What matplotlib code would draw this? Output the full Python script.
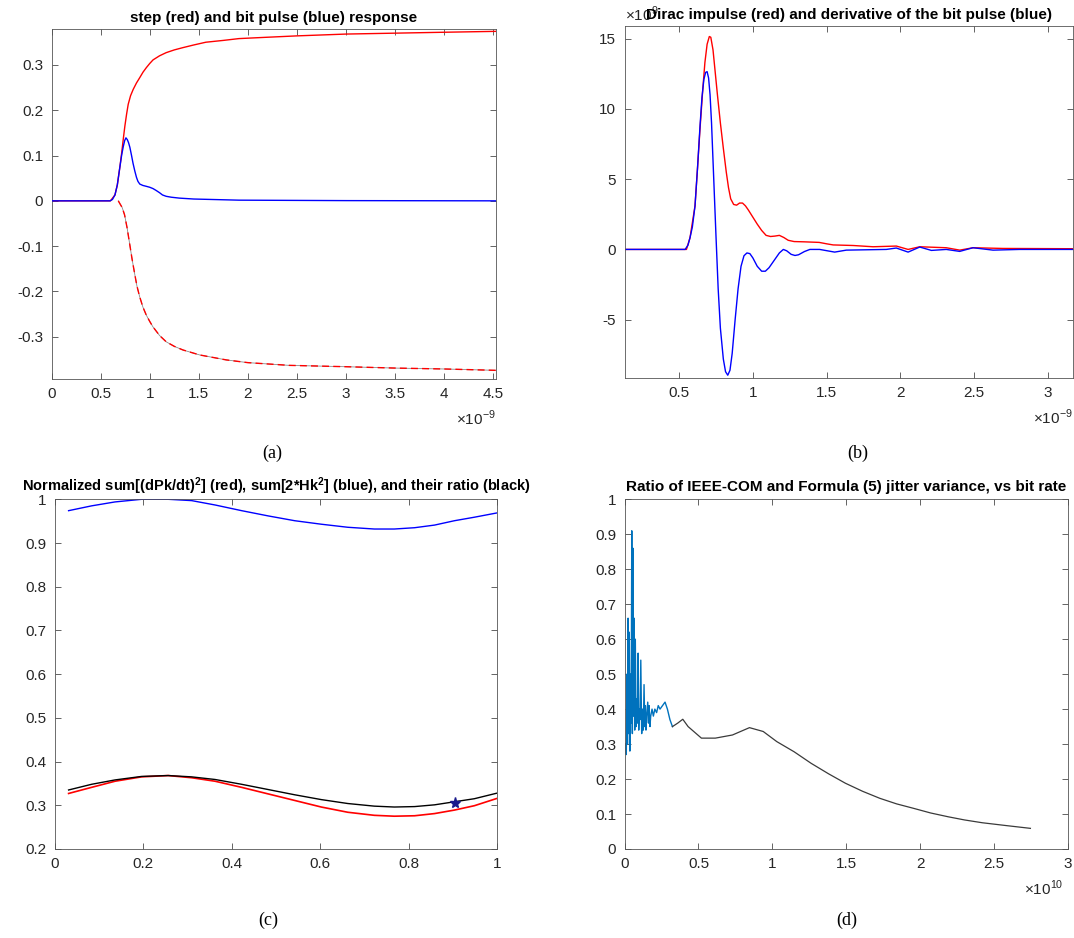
import numpy as np
import matplotlib.pyplot as plt
from matplotlib.ticker import FuncFormatter

plt.rcParams['font.family'] = ['Liberation Sans', 'DejaVu Sans']
plt.rcParams['mathtext.fontset'] = 'custom'
plt.rcParams['mathtext.rm'] = 'Liberation Sans'
plt.rcParams['mathtext.bf'] = 'Liberation Sans:bold'

# ---- (a) step and bit pulse response, time in 1e-9 s
a_pulse_t = [0, 0.596, 0.62, 0.646, 0.67, 0.697, 0.715, 0.731, 0.745, 0.758, 0.772,
             0.785, 0.798, 0.815, 0.83, 0.848, 0.865, 0.88, 0.899, 0.93, 0.966, 1.0,
             1.034, 1.065, 1.10, 1.13, 1.168, 1.22, 1.303, 1.45, 1.909, 3.0, 4.53]
a_pulse = [0, 0, 0.003, 0.013, 0.035, 0.076, 0.102, 0.12, 0.133, 0.139, 0.135,
           0.128, 0.118, 0.10, 0.083, 0.066, 0.052, 0.043, 0.037, 0.034, 0.032, 0.030,
           0.027, 0.023, 0.018, 0.013, 0.010, 0.008, 0.006, 0.004, 0.0015, 0.0005, 0]
a_step_t = [0, 0.60, 0.646, 0.67, 0.697, 0.714, 0.73, 0.747, 0.765, 0.781, 0.805,
            0.832, 0.865, 0.899, 0.932, 0.966, 1.0, 1.034, 1.10, 1.168, 1.25, 1.337,
            1.45, 1.572, 1.75, 1.909, 2.2, 2.5, 3.0, 3.5, 4.0, 4.53]
a_step = [0, 0, 0.013, 0.035, 0.076, 0.105, 0.135, 0.165, 0.192, 0.213, 0.232,
          0.246, 0.26, 0.272, 0.284, 0.294, 0.303, 0.311, 0.32, 0.327, 0.333, 0.338,
          0.344, 0.35, 0.354, 0.358, 0.361, 0.364, 0.368, 0.370, 0.372, 0.374]
a_neg_t = [0.68, 0.693, 0.72, 0.744, 0.77, 0.795, 0.82, 0.846, 0.87, 0.897, 0.93,
           0.965, 1.0, 1.033, 1.10, 1.168, 1.25, 1.338, 1.508, 1.78, 2.0, 2.42,
           3.0, 3.5, 4.0, 4.53]
a_neg = [0, -0.005, -0.015, -0.031, -0.06, -0.094, -0.128, -0.16, -0.188, -0.211, -0.234,
         -0.252, -0.266, -0.278, -0.297, -0.311, -0.321, -0.329, -0.34, -0.351, -0.357, -0.363,
         -0.366, -0.369, -0.371, -0.374]

# ---- (b) Dirac impulse and derivative of bit pulse, time 1e-9 s, values 1e9
b_red_t = [0.13, 0.55, 0.574, 0.608, 0.625, 0.642, 0.66, 0.675, 0.69, 0.705, 0.715,
           0.73, 0.745, 0.76, 0.78, 0.80, 0.82, 0.835, 0.85, 0.87, 0.89, 0.91, 0.93,
           0.95, 0.97, 1.0, 1.03, 1.06, 1.09, 1.12, 1.15, 1.18, 1.21, 1.24, 1.28,
           1.35, 1.45, 1.50, 1.545, 1.68, 1.815, 1.973, 2.053, 2.132, 2.312, 2.403,
           2.493, 2.697, 3.17]
b_red = [0, 0, 0.83, 3.1, 5.8, 8.6, 11.3, 13.3, 14.6, 15.15, 15.1,
         14.2, 12.6, 11.0, 9.0, 7.2, 5.5, 4.4, 3.6, 3.2, 3.15, 3.3, 3.3,
         3.1, 2.8, 2.3, 1.8, 1.35, 1.0, 0.92, 0.95, 1.0, 0.85, 0.65, 0.56,
         0.54, 0.5, 0.4, 0.32, 0.28, 0.19, 0.24, 0.0, 0.19, 0.12, -0.05,
         0.12, 0.07, 0.05]
b_blue_t = [0.13, 0.541, 0.56, 0.574, 0.59, 0.608, 0.625, 0.642, 0.655, 0.668, 0.68,
            0.69, 0.70, 0.71, 0.72, 0.735, 0.75, 0.765, 0.78, 0.80, 0.815, 0.83,
            0.845, 0.86, 0.88, 0.90, 0.92, 0.94, 0.96, 0.98, 1.0, 1.03, 1.06, 1.085,
            1.11, 1.15, 1.18, 1.207, 1.23, 1.26, 1.286, 1.31, 1.35, 1.387, 1.453,
            1.555, 1.634, 1.905, 1.973, 2.053, 2.132, 2.211, 2.312, 2.403, 2.493,
            2.629, 2.81, 3.17]
b_blue = [0, 0, 0.3, 0.83, 1.6, 3.1, 5.8, 8.8, 10.8, 12.1, 12.6,
          12.65, 12.2, 11.0, 9.0, 5.0, 1.0, -2.8, -5.6, -7.8, -8.7, -8.95,
          -8.6, -7.4, -5.0, -2.8, -1.2, -0.45, -0.25, -0.3, -0.6, -1.2, -1.55, -1.55,
          -1.3, -0.7, -0.25, 0.0, -0.1, -0.35, -0.43, -0.38, -0.15, 0.0, 0.0,
          -0.19, -0.05, 0.0, 0.1, -0.19, 0.17, -0.07, 0.0, -0.14, 0.12,
          -0.05, 0.0, 0.0]

# ---- (c) normalized sums and ratio
c_x = [0.031, 0.083, 0.136, 0.196, 0.256, 0.309, 0.362, 0.422, 0.482, 0.542,
       0.602, 0.662, 0.722, 0.767, 0.813, 0.858, 0.903, 0.948, 1.0]
c_blue = [0.974, 0.985, 0.994, 1.0, 1.0, 0.997, 0.987, 0.974, 0.962, 0.951,
          0.943, 0.936, 0.932, 0.932, 0.935, 0.941, 0.951, 0.959, 0.969]
c_black = [0.335, 0.348, 0.358, 0.366, 0.368, 0.365, 0.359, 0.348, 0.336, 0.324,
           0.313, 0.304, 0.298, 0.296, 0.297, 0.301, 0.308, 0.315, 0.328]
c_red = [0.327, 0.341, 0.355, 0.365, 0.368, 0.363, 0.355, 0.341, 0.326, 0.311,
         0.296, 0.284, 0.277, 0.275, 0.276, 0.281, 0.289, 0.299, 0.316]
c_star = (0.905, 0.306)

# ---- (d) jitter variance ratio vs bit rate (1e10)
d_noisy_x = [0.007, 0.012, 0.016, 0.020, 0.024, 0.028, 0.032, 0.036, 0.040, 0.045,
             0.049, 0.053, 0.057, 0.061, 0.065, 0.069, 0.073, 0.078, 0.083, 0.087,
             0.092, 0.096, 0.100, 0.105, 0.110, 0.116, 0.122, 0.127, 0.132, 0.137,
             0.141, 0.145, 0.150, 0.157, 0.162, 0.166, 0.172, 0.177, 0.186, 0.195,
             0.205, 0.217, 0.228, 0.24, 0.257, 0.274, 0.29, 0.307, 0.324]
d_noisy = [0.30, 0.27, 0.50, 0.30, 0.66, 0.33, 0.62, 0.28, 0.50, 0.36,
           0.91, 0.33, 0.86, 0.38, 0.66, 0.34, 0.60, 0.35, 0.43, 0.36,
           0.56, 0.34, 0.40, 0.37, 0.54, 0.33, 0.40, 0.34, 0.47, 0.35,
           0.41, 0.34, 0.38, 0.42, 0.36, 0.41, 0.35, 0.38, 0.40, 0.38,
           0.40, 0.39, 0.41, 0.40, 0.41, 0.42, 0.40, 0.37, 0.35]
d_smooth_x = [0.324, 0.36, 0.394, 0.43, 0.52, 0.614, 0.73, 0.845, 0.938, 1.03, 1.147,
              1.262, 1.38, 1.494, 1.61, 1.726, 1.84, 1.957, 2.07, 2.19, 2.30, 2.42,
              2.58, 2.745]
d_smooth = [0.35, 0.36, 0.371, 0.35, 0.317, 0.317, 0.326, 0.347, 0.336, 0.307, 0.278,
            0.245, 0.215, 0.188, 0.165, 0.145, 0.129, 0.116, 0.103, 0.092, 0.083, 0.075,
            0.067, 0.059]

fig = plt.figure(figsize=(10.74, 9.38), dpi=100)
axa = fig.add_axes([0.048, 0.596, 0.414, 0.373])
axb = fig.add_axes([0.5815, 0.597, 0.4174, 0.3753])
axc = fig.add_axes([0.0511, 0.0949, 0.412, 0.3728])
axd = fig.add_axes([0.5815, 0.0949, 0.413, 0.3728])

fmt = FuncFormatter(lambda v, p: '%g' % round(v, 6))
for ax in (axa, axb, axc, axd):
    ax.tick_params(direction='in', top=True, right=True, length=4, width=0.5,
                   labelsize=11, colors='#262626', pad=6)
    for s in ax.spines.values():
        s.set_linewidth(0.6)
        s.set_color('#555555')
    ax.xaxis.set_major_formatter(fmt)
    ax.yaxis.set_major_formatter(fmt)

# (a)
axa.plot(a_pulse_t, a_pulse, color='b', lw=1.0, zorder=3)
axa.plot(a_step_t, a_step, color='r', lw=1.0)
axa.plot(a_neg_t, a_neg, color='#888888', lw=0.6)
axa.plot(a_neg_t, a_neg, color='r', lw=1.0, ls=(0, (5, 3)))
axa.set_xlim(0, 4.53)
axa.set_ylim(-0.393, 0.379)
axa.set_xticks(np.arange(0, 4.6, 0.5))
axa.set_yticks(np.arange(-0.3, 0.31, 0.1))
axa.set_title('step (red) and bit pulse (blue) response', fontsize=11, fontweight='bold', pad=5)
axa.text(1.0, -0.085, r'$\times10^{-9}$', transform=axa.transAxes, ha='right', va='top',
         fontsize=11, color='#262626')

# (b)
axb.plot(b_red_t, b_red, color='r', lw=1.0)
axb.plot(b_blue_t, b_blue, color='b', lw=1.0)
axb.set_xlim(0.13, 3.17)
axb.set_ylim(-9.15, 15.9)
axb.set_xticks(np.arange(0.5, 3.1, 0.5))
axb.set_yticks([-5, 0, 5, 10, 15])
axb.text(0.0, 1.005, r'$\times10^{9}$', transform=axb.transAxes, ha='left', va='bottom',
         fontsize=11, color='#262626')
axb.set_title('Dirac impulse (red) and derivative of the bit pulse (blue)', fontsize=11,
              fontweight='bold', pad=5)
axb.text(1.0, -0.085, r'$\times10^{-9}$', transform=axb.transAxes, ha='right', va='top',
         fontsize=11, color='#262626')

# (c)
axc.plot(c_x, c_blue, color='b', lw=1.0)
axc.plot(c_x, c_red, color='r', lw=1.2)
axc.plot(c_x, c_black, color='k', lw=1.0)
axc.plot(*c_star, marker='*', color='#1a1a8c', ms=8, ls='none')
axc.set_xlim(0, 1)
axc.set_ylim(0.2, 1)
axc.set_xticks(np.arange(0, 1.01, 0.2))
axc.set_yticks(np.arange(0.2, 1.01, 0.1))
axc.set_title(r'Normalized sum[(dPk/dt)$\mathbf{^2}$] (red), sum[2*Hk$\mathbf{^2}$] (blue), and their ratio (black)',
              fontsize=10.5, fontweight='bold', pad=6)

# (d)
axd.plot(d_noisy_x, d_noisy, color='#0072BD', lw=1.0)
axd.plot(d_smooth_x, d_smooth, color='#3a3a3a', lw=0.9)
axd.set_xlim(0, 3)
axd.set_ylim(0, 1)
axd.set_xticks(np.arange(0, 3.01, 0.5))
axd.set_yticks(np.arange(0, 1.01, 0.1))
axd.set_title('Ratio of IEEE-COM and Formula (5) jitter variance, vs bit rate', fontsize=11,
              fontweight='bold', pad=6)
axd.text(0.99, -0.085, r'$\times10^{10}$', transform=axd.transAxes, ha='right', va='top',
         fontsize=11, color='#262626')

for lab, x, y in [('(a)', 272, 453), ('(b)', 858, 453), ('(c)', 268, 920), ('(d)', 847, 920)]:
    fig.text(x / 1074, 1 - y / 938, lab, ha='center', va='center', fontsize=13,
             family='Liberation Serif')

fig.savefig('out.png', dpi=100)
